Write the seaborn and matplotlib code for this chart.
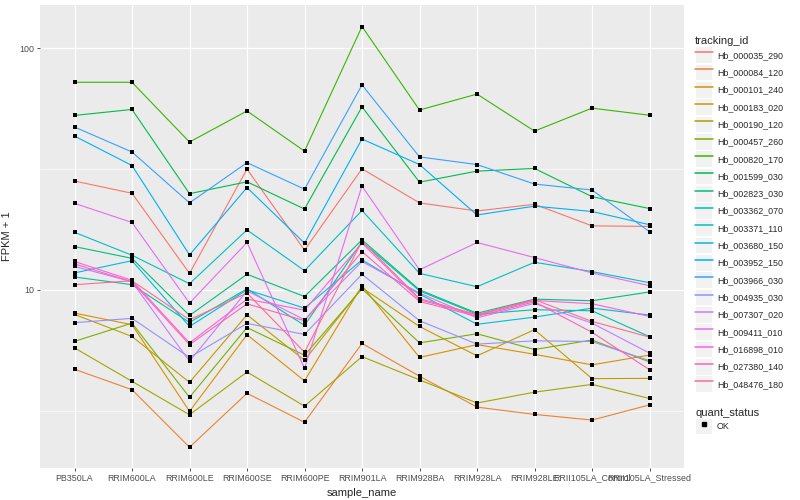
import numpy as np
import pandas as pd
import seaborn as sns
import matplotlib
matplotlib.use('Agg')
import matplotlib.pyplot as plt
from matplotlib.ticker import FixedLocator, NullFormatter
from matplotlib.lines import Line2D
from matplotlib.patches import Rectangle
from matplotlib.legend_handler import HandlerLine2D

# samples on the x axis
sample_names = ['PB350LA', 'RRIM600LA', 'RRIM600LE', 'RRIM600SE', 'RRIM600PE', 'RRIM901LA',
                'RRIM928BA', 'RRIM928LA', 'RRIM928LE', 'RRII105LA_Control', 'RRII105LA_Stressed']

tracking_ids = ['Hb_000035_290', 'Hb_000084_120', 'Hb_000101_240', 'Hb_000183_020', 'Hb_000190_120',
                'Hb_000457_260', 'Hb_000820_170', 'Hb_001599_030', 'Hb_002823_030', 'Hb_003362_070',
                'Hb_003371_110', 'Hb_003680_150', 'Hb_003952_150', 'Hb_003966_030', 'Hb_004935_030',
                'Hb_007307_020', 'Hb_009411_010', 'Hb_016898_010', 'Hb_027380_140', 'Hb_048476_180']

# FPKM + 1 per sample
hb_000035_290 = [28.2, 25.1, 11.7, 31.6, 14.6, 31.7, 22.9, 21.2, 22.6, 18.4, 18.3]
hb_000084_120 = [4.69, 3.86, 2.23, 3.73, 2.83, 6.0, 4.39, 3.27, 3.05, 2.89, 3.34]
hb_000101_240 = [8.01, 7.17, 3.14, 6.52, 4.20, 10.4, 5.25, 5.93, 5.41, 4.89, 5.37]
hb_000183_020 = [7.91, 6.41, 4.14, 7.88, 5.11, 10.2, 7.05, 5.33, 6.84, 4.29, 4.30]
hb_000190_120 = [5.75, 4.18, 3.04, 4.57, 3.30, 5.29, 4.24, 3.40, 3.77, 4.06, 3.55]
hb_000457_260 = [6.12, 7.28, 3.59, 6.98, 5.36, 10.1, 6.03, 6.58, 5.66, 6.2, 5.03]
hb_000820_170 = [72.3, 72.3, 40.9, 55.0, 37.5, 123.0, 55.5, 64.6, 45.4, 56.5, 52.8]
hb_001599_030 = [52.7, 55.8, 25.0, 28.0, 21.6, 57.2, 27.9, 31.0, 31.8, 24.3, 21.7]
hb_002823_030 = [15.1, 13.5, 7.83, 11.6, 9.38, 16.1, 10.0, 8.0, 9.15, 9.01, 9.8]
hb_003362_070 = [11.3, 10.5, 7.33, 10.1, 7.13, 15.8, 9.9, 7.93, 8.27, 8.19, 6.40]
hb_003371_110 = [17.3, 13.9, 10.6, 17.7, 12.0, 21.3, 11.7, 10.3, 13.0, 11.9, 10.7]
hb_003680_150 = [11.75, 13.2, 7.05, 10.0, 8.40, 13.3, 9.6, 7.2, 7.71, 8.40, 7.86]
hb_003952_150 = [43.3, 32.7, 13.95, 26.5, 15.6, 42.1, 33.0, 20.4, 22.2, 21.1, 18.6]
hb_003966_030 = [47.2, 37.2, 22.9, 33.6, 26.1, 70.5, 35.5, 33.0, 27.4, 25.9, 17.4]
hb_004935_030 = [7.31, 7.62, 5.25, 7.26, 6.54, 11.6, 7.45, 5.96, 6.15, 6.11, 5.09]
hb_007307_020 = [12.5, 10.8, 5.06, 9.9, 7.52, 13.1, 9.7, 7.66, 8.79, 7.28, 5.47]
hb_009411_010 = [22.8, 19.0, 8.81, 15.7, 4.73, 26.9, 12.1, 15.7, 13.6, 11.75, 10.4]
hb_016898_010 = [13.1, 10.95, 6.03, 9.15, 8.24, 15.6, 9.1, 7.85, 9.03, 8.76, 7.76]
hb_027380_140 = [12.8, 10.8, 5.93, 8.75, 7.45, 14.4, 8.95, 7.76, 8.92, 6.67, 4.67]
hb_048476_180 = [10.5, 10.9, 7.52, 9.7, 5.52, 15.9, 9.2, 7.9, 9.1, 7.40, 6.37]

all_series = [hb_000035_290, hb_000084_120, hb_000101_240, hb_000183_020, hb_000190_120,
              hb_000457_260, hb_000820_170, hb_001599_030, hb_002823_030, hb_003362_070,
              hb_003371_110, hb_003680_150, hb_003952_150, hb_003966_030, hb_004935_030,
              hb_007307_020, hb_009411_010, hb_016898_010, hb_027380_140, hb_048476_180]

quant_status = 'OK'

# ggplot default hue palette for 20 levels
hue_colors = ['#F8766D', '#EA8331', '#D89000', '#C09B00', '#A3A500', '#7CAE00', '#39B600',
              '#00BB4E', '#00BF7D', '#00C1A3', '#00BFC4', '#00BAE0', '#00B0F6', '#35A2FF',
              '#9590FF', '#C77CFF', '#E76BF3', '#FA62DB', '#FF62BC', '#FF6C91']

rows = []
for tid, vals in zip(tracking_ids, all_series):
    for s, v in zip(sample_names, vals):
        rows.append({'tracking_id': tid, 'sample_name': s, 'fpkm1': v, 'quant_status': quant_status})
df = pd.DataFrame(rows)

sns.set_style('darkgrid', {'axes.facecolor': '#EBEBEB', 'grid.color': 'white'})
plt.rcParams['font.family'] = ['Liberation Sans', 'DejaVu Sans']

fig = plt.figure(figsize=(8, 5), dpi=100)
ax = fig.add_axes([0.05, 0.064, 0.805, 0.926])

sns.lineplot(data=df, x='sample_name', y='fpkm1', hue='tracking_id', hue_order=tracking_ids,
             palette=hue_colors, sort=False, estimator=None, lw=0.8, legend=False, ax=ax)
sns.scatterplot(data=df, x='sample_name', y='fpkm1', color='black', s=11, marker='s',
                linewidth=0, legend=False, ax=ax, zorder=5)

ax.set_yscale('log')
ax.set_ylim(1.83, 151)
ax.set_xlim(-0.6, 10.6)
ax.yaxis.set_major_locator(FixedLocator([10, 100]))
ax.yaxis.set_minor_locator(FixedLocator([10 ** 0.5, 10 ** 1.5]))
ax.yaxis.set_minor_formatter(NullFormatter())
ax.set_yticklabels(['10', '100'])
ax.grid(which='major', color='white', lw=0.9)
ax.grid(which='minor', axis='y', color='white', lw=0.45)
ax.set_axisbelow(True)
for sp in ax.spines.values():
    sp.set_visible(False)

ax.tick_params(axis='both', which='major', length=2.5, width=0.6, color='#333333',
               labelsize=6.4, labelcolor='#4D4D4D', pad=1.5, left=True, bottom=True)
ax.tick_params(axis='y', which='minor', length=0)
ax.set_xlabel('sample_name', fontsize=8, labelpad=4)
ax.set_ylabel('FPKM + 1', fontsize=8, labelpad=5)


class KeyHandler(HandlerLine2D):
    def create_artists(self, legend, orig_handle, xdescent, ydescent, width, height, fontsize, trans):
        arts = super().create_artists(legend, orig_handle, xdescent, ydescent, width, height, fontsize, trans)
        bg = Rectangle((-xdescent + 0.6, -ydescent + 0.6), width - 1.2, height - 1.2,
                       facecolor='#F2F2F2', edgecolor='none', transform=trans)
        return [bg] + list(arts)


handles = [Line2D([], [], color=c, lw=1.1) for c in hue_colors]
leg1 = fig.legend(handles, tracking_ids, title='tracking_id', loc='upper left',
                  bbox_to_anchor=(0.869, 0.927), frameon=False, fontsize=6.4, title_fontsize=8,
                  handlelength=1.98, handleheight=2.62, labelspacing=0.0, handletextpad=0.45,
                  borderpad=0, borderaxespad=0, alignment='left',
                  handler_map={Line2D: KeyHandler()})

pt = Line2D([], [], color='black', marker='s', markersize=2.5, lw=0)
leg2 = fig.legend([pt], [quant_status], title='quant_status', loc='upper left',
                  bbox_to_anchor=(0.869, 0.184), frameon=False, fontsize=6.4, title_fontsize=8,
                  handlelength=1.98, handleheight=2.62, labelspacing=0.0, handletextpad=0.45,
                  borderpad=0, borderaxespad=0, alignment='left',
                  handler_map={Line2D: KeyHandler()})

fig.savefig('out.png', dpi=100, facecolor='white')
